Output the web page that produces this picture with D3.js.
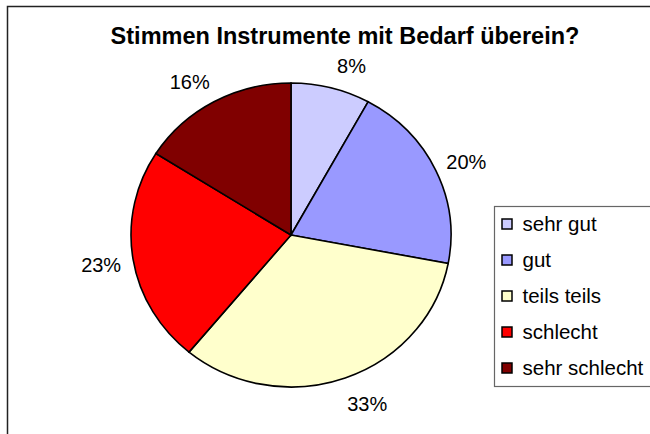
<!DOCTYPE html>
<html>
<head>
<meta charset="utf-8">
<script src="https://cdn.jsdelivr.net/npm/d3@7"></script>
<style>
  body { margin: 0; background: #fff; }
  svg { font-family: "Liberation Sans", Arial, sans-serif; }
</style>
</head>
<body>
<svg id="chart"></svg>
<script>
// data
const categories = ['sehr gut', 'gut', 'teils teils', 'schlecht', 'sehr schlecht'];
const values = [8, 20, 33, 23, 16];
const colors = ['#CCCCFF', '#9999FF', '#FFFFCC', '#FF0000', '#800000'];
const title = 'Stimmen Instrumente mit Bedarf überein?';

function drawChart() {
  const width = 650, height = 434;
  const chart = d3.select('#chart')
    .attr('width', width)
    .attr('height', height);

  // outer chart frame (runs off the right and bottom)
  chart.append('path')
    .attr('d', `M7.5,${height + 5} L7.5,6.5 L${width + 5},6.5`)
    .attr('fill', 'none')
    .attr('stroke', '#222')
    .attr('stroke-width', 1.5);

  chart.append('text')
    .attr('x', 345)
    .attr('y', 44)
    .attr('text-anchor', 'middle')
    .attr('font-size', '23.5px')
    .attr('font-weight', 'bold')
    .text(title);

  // pie is a bit wider than tall
  const cx = 291, cy = 235, rx = 160, ry = 152;
  const pie = d3.pie().sort(null).value(d => d)(values);
  const arc = d3.arc().innerRadius(0).outerRadius(rx);

  const g = chart.append('g')
    .attr('transform', `translate(${cx},${cy}) scale(1,${ry / rx})`);

  g.selectAll('path')
    .data(pie).enter()
    .append('path')
    .attr('d', arc)
    .attr('fill', (d, i) => colors[i])
    .attr('stroke', '#000')
    .attr('stroke-width', 1.6)
    .attr('vector-effect', 'non-scaling-stroke');

  // percent labels outside the edge
  const total = d3.sum(values);
  const d0 = 15, hw = 17, hh = 10;
  chart.selectAll('text.pct')
    .data(pie).enter()
    .append('text')
    .classed('pct', true)
    .attr('text-anchor', 'middle')
    .attr('font-size', '20px')
    .attr('x', d => {
      const a = (d.startAngle + d.endAngle) / 2;
      const s = Math.sin(a);
      return cx + rx * s + d0 * s + hw * Math.sign(s);
    })
    .attr('y', d => {
      const a = (d.startAngle + d.endAngle) / 2;
      const c = Math.cos(a);
      return cy - ry * c - d0 * c - hh * c + 9;
    })
    .text(d => Math.round(d.value / total * 100) + '%');

  // legend
  const lx = 494.5, ly = 206.5;
  chart.append('rect')
    .attr('x', lx)
    .attr('y', ly)
    .attr('width', 200)
    .attr('height', 180)
    .attr('fill', '#fff')
    .attr('stroke', '#666')
    .attr('stroke-width', 1.2);

  const rowY = d3.scalePoint()
    .domain(categories)
    .range([224, 368]);

  const items = chart.selectAll('g.legend')
    .data(categories).enter()
    .append('g')
    .classed('legend', true)
    .attr('transform', d => `translate(${lx + 7},${rowY(d)})`);

  items.append('rect')
    .attr('x', 0.5)
    .attr('y', -5)
    .attr('width', 10)
    .attr('height', 10)
    .attr('fill', (d, i) => colors[i])
    .attr('stroke', '#000')
    .attr('stroke-width', 1.5);

  items.append('text')
    .attr('x', 21)
    .attr('y', 7)
    .attr('font-size', '20.5px')
    .text(d => d);
}

drawChart();
</script>
</body>
</html>
